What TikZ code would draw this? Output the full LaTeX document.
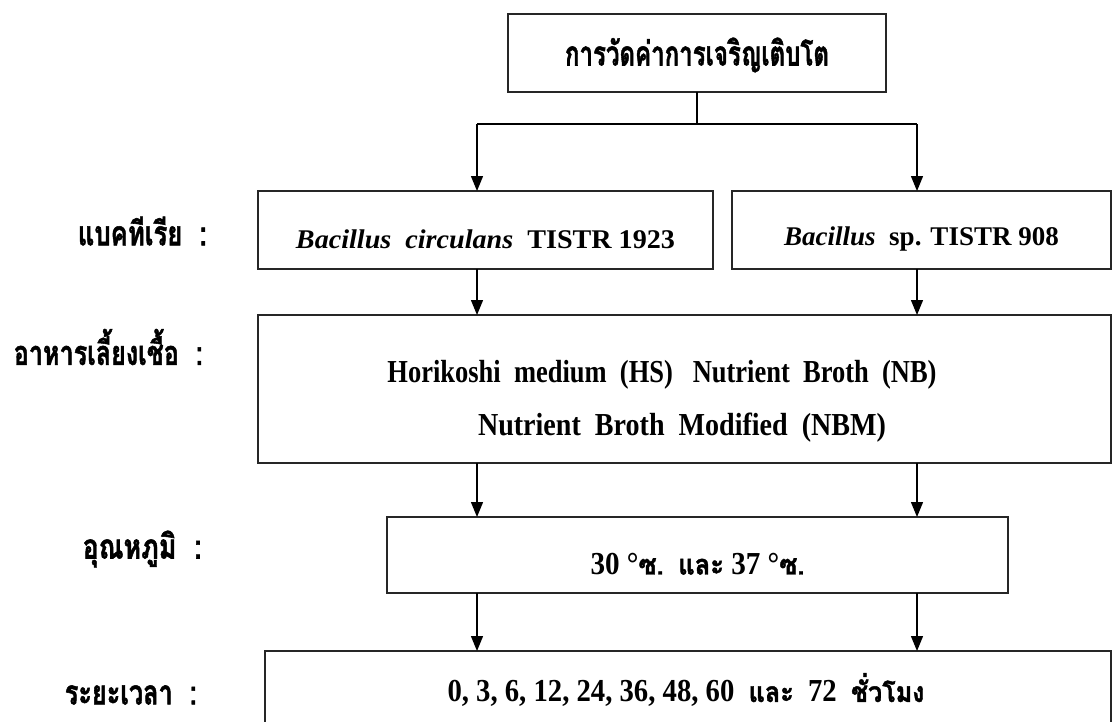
\documentclass[tikz,border=0pt]{standalone}
\usepackage{fontspec}
\usepackage{graphicx}
\usetikzlibrary{arrows.meta}
\setmainfont{Liberation Serif}
\newfontfamily\thaifont[Script=Thai,FakeBold=1.6]{Loma}
% Latin and Thai faces used in the chart
\newcommand{\lat}{\fontsize{27}{32}\selectfont\bfseries}
\newcommand{\latb}{\fontsize{32}{36}\selectfont\bfseries}
\newcommand{\thb}{\thaifont\fontsize{34}{40}\selectfont\bfseries}
\newcommand{\fitto}[2]{\resizebox{#1}{\height}{#2}}
\newcommand{\tw}[1]{{\thaifont\fontsize{28}{32}\selectfont\bfseries #1}}

\begin{document}
\begin{tikzpicture}[x=1pt,y=-1pt,
  box/.style={draw=black!85, line width=1.3pt, inner sep=0pt, outer sep=0pt},
  txt/.style={inner sep=0pt, align=center},
  link/.style={line width=1.3pt},
  arr/.style={line width=1.3pt, -{Triangle[length=15pt,width=12pt]}},
  lab/.style={anchor=east, inner sep=0pt}]
\useasboundingbox (0,0) rectangle (1116,721);
\clip (0,0) rectangle (1116,721);

% boxes
\node[box, minimum width=378pt, minimum height=78pt] (top) at (697,53) {};
\node[box, minimum width=455pt, minimum height=78pt] (bca) at (485.5,230) {};
\node[box, minimum width=379pt, minimum height=78pt] (bsp) at (921.5,230) {};
\node[box, minimum width=853pt, minimum height=148pt] (med) at (684.5,389) {};
\node[box, minimum width=621pt, minimum height=76pt] (tmp) at (697.5,555) {};
\node[box, minimum width=846pt, minimum height=78pt] (tim) at (688,690) {};

% box texts
\node[txt] (topt) at ([yshift=-2pt]top.center)
  {\thb\fitto{264pt}{การวัดค่าการเจริญเติบโต}};
\node[txt] (bcat) at ([yshift=-9pt]bca.center)
  {\lat\fitto{379pt}{\textit{Bacillus}\ \ \textit{circulans}\ \ TISTR 1923}};
\node[txt] (bspt) at ([yshift=-9pt]bsp.center)
  {\lat\textit{Bacillus}\ \ sp. TISTR 908};
\node[txt] (medt1) at (662,375)
  {\latb\fitto{549pt}{Horikoshi\ \ medium\ \ (HS)\ \ \ Nutrient\ \ Broth\ \ (NB)}};
\node[txt] (medt2) at (682,428)
  {\latb\fitto{408pt}{Nutrient\ \ Broth\ \ Modified\ \ (NBM)}};
\node[txt] (tmpt) at ([yshift=-9pt]tmp.center)
  {\latb\fitto{214pt}{30 °\tw{ซ.}\ \ \tw{และ} 37 °\tw{ซ.}}};
\node[txt] (timt) at (686,690)
  {\latb\fitto{477pt}{0, 3, 6, 12, 24, 36, 48, 60\ \ \tw{และ}\ \ 72\ \ \tw{ชั่วโมง}}};

% row labels
\node[lab] (l1) at (207,231) {\thb\fitto{129pt}{แบคทีเรีย\ \ :}};
\node[lab] (l2) at (203,347) {\thb\fitto{189pt}{อาหารเลี้ยงเชื้อ\ \ :}};
\node[lab] (l3) at (202,549) {\thb\fitto{119pt}{อุณหภูมิ\ \ :}};
\node[lab] (l4) at (197,695) {\thb\fitto{132pt}{ระยะเวลา\ \ :}};

% connectors
\coordinate (jm) at (697,124);
\coordinate (jl) at (477,124);
\coordinate (jr) at (917,124);
\draw[link] (top.south) -- (jm);
\draw[link] (jl) -- (jr);
\draw[arr] (jl) -- (jl |- bca.north);
\draw[arr] (jr) -- (jr |- bsp.north);
\draw[arr] (jl |- bca.south) -- (jl |- med.north);
\draw[arr] (jr |- bsp.south) -- (jr |- med.north);
\draw[arr] (jl |- med.south) -- (jl |- tmp.north);
\draw[arr] (jr |- med.south) -- (jr |- tmp.north);
\draw[arr] (jl |- tmp.south) -- (jl |- tim.north);
\draw[arr] (jr |- tmp.south) -- (jr |- tim.north);
\end{tikzpicture}
\end{document}
